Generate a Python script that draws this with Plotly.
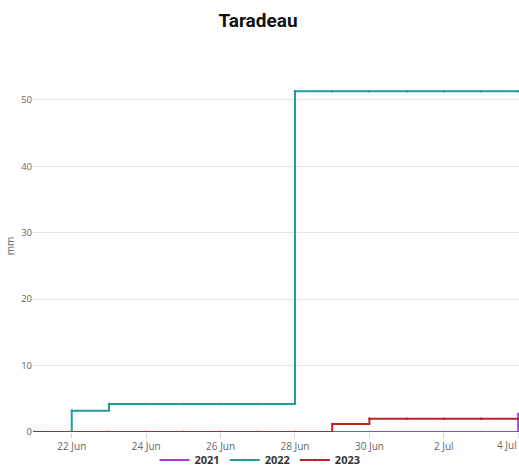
import plotly.graph_objects as go
import pandas as pd

dates = pd.date_range("2023-06-21", "2023-07-04", freq="D")
rain_2021 = [0, 0, 0, 0, 0, 0, 0, 0, 0, 0, 0, 0, 0, 2.7]
rain_2022 = [0, 3.2, 4.2, 4.2, 4.2, 4.2, 4.2, 51.3, 51.3, 51.3, 51.3, 51.3, 51.3, 51.3]
rain_2023 = [0, 0, 0, 0, 0, 0, 0, 0, 1.2, 2.0, 2.0, 2.0, 2.0, 2.0]

tick_dates = ["2023-06-22", "2023-06-24", "2023-06-26", "2023-06-28", "2023-06-30", "2023-07-02", "2023-07-04"]
tick_labels = ["22 Jun", "24 Jun", "26 Jun", "28 Jun", "30 Jun", "2 Jul", "4 Jul"]

series = [("2021", rain_2021, "#a13fd6"), ("2022", rain_2022, "#1f9d96"), ("2023", rain_2023, "#b5262a")]

fig = go.Figure()
for name, vals, col in series:
    fig.add_trace(go.Scatter(
        x=dates, y=vals, name=name, mode="lines+markers",
        line=dict(shape="hv", color=col, width=2),
        marker=dict(size=2.5, color=col),
    ))

# last label is justified inside the chart edge, as in the original
shown_labels = tick_labels[:-1] + [""]
fig.add_annotation(text=tick_labels[-1], x=1, xref="paper", xanchor="right",
                   y=-13, yref="y domain" if False else "paper", yanchor="middle",
                   showarrow=False, font=dict(size=10, color="#666", family="Open Sans"))

W, H = 519, 466
fig.update_layout(
    width=W, height=H,
    margin=dict(l=33, r=0, t=60, b=34),
    paper_bgcolor="white", plot_bgcolor="white",
    font=dict(family="Open Sans", size=9, color="#666"),
    title=dict(text="<b>Taradeau</b>", x=258 / W, xref="container", xanchor="center",
               y=1 - 20 / H, yanchor="middle",
               font=dict(family="Roboto", size=19, color="#111")),
    showlegend=True,
    legend=dict(orientation="h", x=260 / W, xref="container", xanchor="center",
                y=1 - 460 / H, yref="container", yanchor="middle",
                bgcolor="rgba(0,0,0,0)",
                font=dict(family="Open Sans", size=11, color="#333", weight="bold"),
                itemwidth=30, tracegroupgap=0),
    xaxis=dict(range=["2023-06-20 23:00", "2023-07-04 00:30"],
               tickvals=tick_dates, ticktext=shown_labels,
               showgrid=False, zeroline=False, showline=False, automargin=False,
               ticks="outside", ticklen=5, tickcolor="#ccd6eb",
               tickfont=dict(size=10, color="#666")),
    yaxis=dict(range=[0, 56], dtick=10, showgrid=True, gridcolor="#e6e6e6",
               zeroline=False, showline=False, automargin=False,
               title=dict(text="mm", font=dict(size=10, color="#666"), standoff=4),
               tickfont=dict(size=9.5, color="#666")),
)
# place the annotation at the tick-label row (13 px below the plot bottom)
plot_h = H - 60 - 34
fig.layout.annotations[0].y = -13 / plot_h

fig.write_html("out.html", config={"displayModeBar": False},
               post_script="document.body.style.margin='0';document.body.style.overflow='hidden';")
